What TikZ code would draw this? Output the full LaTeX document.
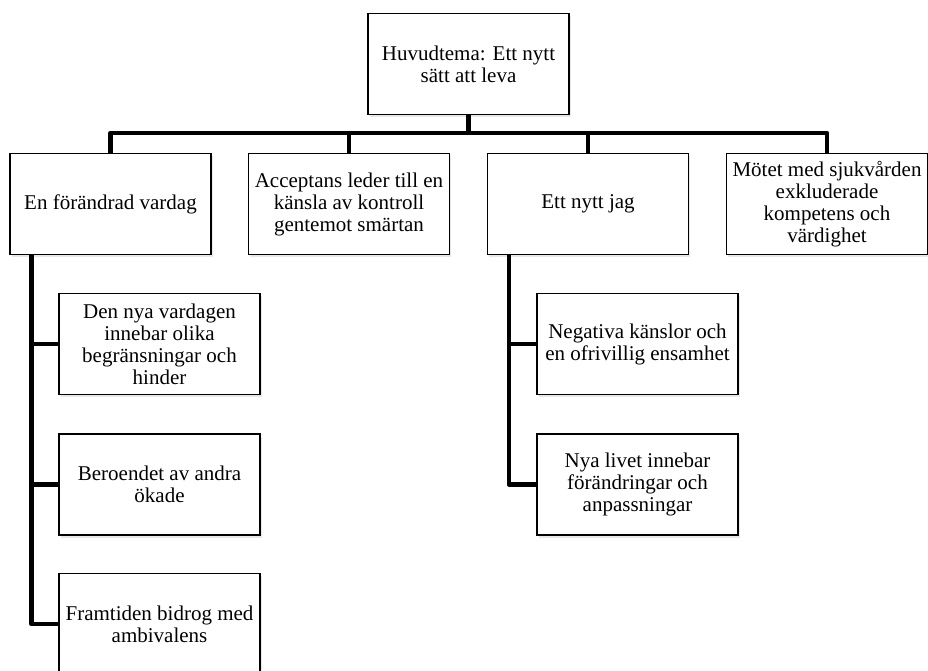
\documentclass[tikz,border=0pt]{standalone}
\usepackage{fontspec}
\setmainfont{Liberation Serif}
\usetikzlibrary{shadows}
\begin{document}
\begin{tikzpicture}[x=1pt,y=-1pt,
    box/.style={shape=rectangle,draw=black,line width=1.2pt,fill=white,
      minimum width=201pt,minimum height=101pt,inner sep=0pt,align=center,
      font=\fontsize{21}{22}\selectfont,
      drop shadow={shadow xshift=1.5pt,shadow yshift=-2.5pt,opacity=0.18}},
    conn/.style={draw=black,line width=4.5pt,line join=round}]
            \fill[white] (0,0) rectangle (928,670);
            \useasboundingbox (0,0) rectangle (928,670);

            \node[box] (huvud) at (468.5,64) {Huvudtema: Ett nytt\\sätt att leva};
            \node[box] (vardag) at (110.5,204) {En förändrad vardag};
            \node[box] (accept) at (349,204) {Acceptans leder till en\\känsla av kontroll\\gentemot smärtan};
            \node[box] (jag) at (588,204) {Ett nytt jag};
            \node[box] (motet) at (827,204) {Mötet med sjukvården\\exkluderade\\kompetens och\\värdighet};

            \node[box] (nya) at (159.5,344) {Den nya vardagen\\innebar olika\\begränsningar och\\hinder};
            \node[box] (beroende) at (159.5,484.5) {Beroendet av andra\\ökade};
            \node[box] (framtid) at (159.5,624) {Framtiden bidrog med\\ambivalens};

            \node[box] (negativa) at (637.5,344) {Negativa känslor och\\en ofrivillig ensamhet};
            \node[box] (livet) at (637.5,484.5) {Nya livet innebar\\förändringar och\\anpassningar};

            %Now the edges
            \coordinate (bar) at (468.5,133);
            \draw[conn] (huvud.south) -- (bar);
            \draw[conn] (vardag.north) |- (bar);
            \draw[conn] (accept.north) |- (bar);
            \draw[conn] (jag.north) |- (bar);
            \draw[conn] (motet.north) |- (bar);

            \draw[conn] ([xshift=22pt]vardag.south west) |- (nya.west);
            \draw[conn] ([xshift=22pt]vardag.south west) |- (beroende.west);
            \draw[conn] ([xshift=22pt]vardag.south west) |- (framtid.west);

            \draw[conn] ([xshift=22pt]jag.south west) |- (negativa.west);
            \draw[conn] ([xshift=22pt]jag.south west) |- (livet.west);

        \end{tikzpicture}
\end{document}
